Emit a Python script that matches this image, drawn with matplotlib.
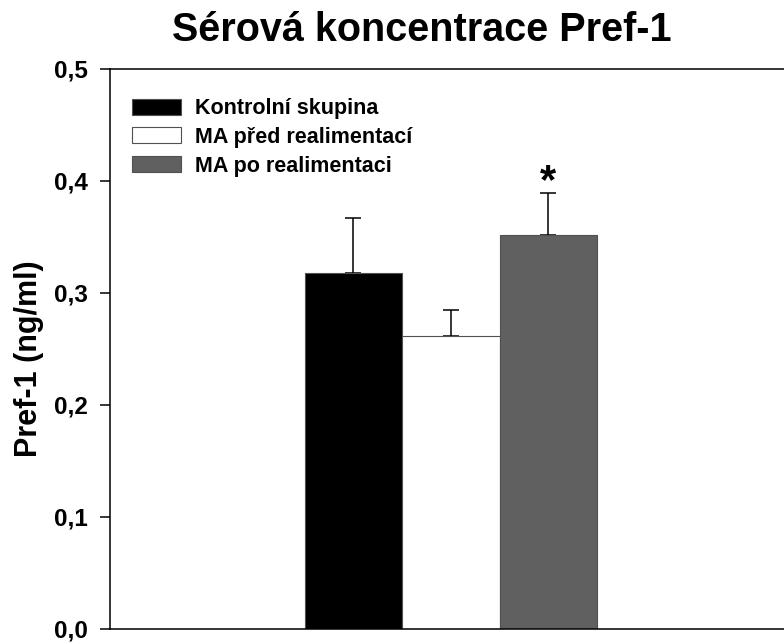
import numpy as np
import matplotlib
matplotlib.use("Agg")
import matplotlib.pyplot as plt

plt.rcParams.update({
    'font.family': ['Liberation Sans', 'DejaVu Sans'],
    'font.weight': 'bold',
    'axes.linewidth': 1.1,
})

# data
groups = ["Kontrolní skupina", "MA před realimentací", "MA po realimentaci"]
means = [0.318, 0.262, 0.352]
sem = [0.049, 0.023, 0.037]
colors = ["#000000", "#FFFFFF", "#606060"]
significant = [False, False, True]
yticks = [0.0, 0.1, 0.2, 0.3, 0.4, 0.5]
ytick_labels = ["0,0", "0,1", "0,2", "0,3", "0,4", "0,5"]

fig = plt.figure(figsize=(7.84, 6.43), dpi=100)
ax = fig.add_axes([0.1403, 0.0218, 0.8597, 0.8709])

x = np.arange(len(groups))
ax.bar(x, means, width=1.0, color=colors, edgecolor="#505050",
       linewidth=0.8, label=groups, zorder=2)
ax.errorbar(x, means, yerr=[np.zeros(len(sem)), sem], fmt='none',
            ecolor='black', elinewidth=1.1, capsize=5.8, capthick=1.1, zorder=1)

# significance star sits just above the error bar
for xi, m, e, s in zip(x, means, sem, significant):
    if s:
        ax.text(xi, m + e, "*", ha='center', va='baseline',
                fontsize=30, fontweight='bold')

ax.set_xlim(-2.5, 4.42)
ax.set_ylim(0, 0.5)
ax.set_yticks(yticks)
ax.set_yticklabels(ytick_labels, fontsize=17.5, fontweight='bold')
ax.set_xticks([])
ax.tick_params(axis='y', direction='out', length=7, width=1.1, pad=9)
ax.spines['right'].set_visible(False)

fig.text(29 / 784, 1 - 359 / 643, "Pref-1 (ng/ml)", rotation=90,
         ha='center', va='center', fontsize=22, fontweight='bold')
fig.text(422 / 784, 1 - 41 / 643, "Sérová koncentrace Pref-1",
         ha='center', va='baseline', fontsize=28.5, fontweight='bold')

ax.legend(loc='upper left', bbox_to_anchor=(0.032, 0.948), frameon=False,
          fontsize=15.5, handlelength=2.3, handleheight=0.77, labelspacing=0.36,
          handletextpad=0.66, borderpad=0, borderaxespad=0)

fig.savefig("out.png", dpi=100)
